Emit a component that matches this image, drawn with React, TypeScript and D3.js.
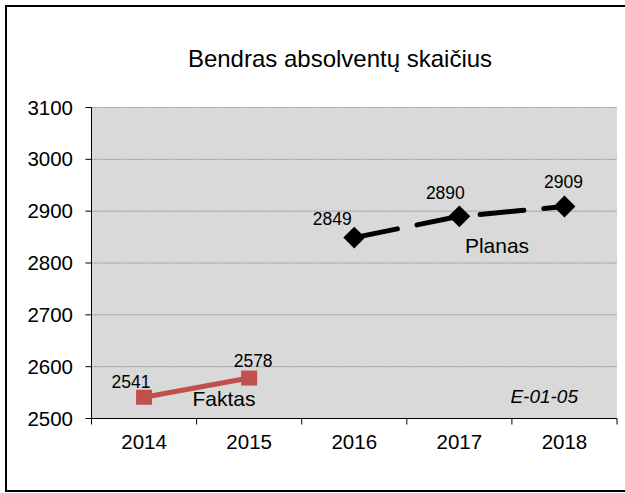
import React from "react";
import * as d3 from "d3";

const categories = ["2014", "2015", "2016", "2017", "2018"];
const faktasYears = ["2014", "2015"];
const faktasValues = [2541, 2578];
const planasYears = ["2016", "2017", "2018"];
const planasValues = [2849, 2890, 2909];
const yTicks = [2500, 2600, 2700, 2800, 2900, 3000, 3100];
const faktasLabelOffsets: [number, number][] = [[-13, -9], [4, -11]];
const planasLabelOffsets: [number, number][] = [[-22, -13], [-14, -17], [-1, -19]];

const W = 625, H = 493;
const plot = { left: 91.5, right: 617, top: 107.5, bottom: 418.5 };
const font = "'Liberation Sans', Arial, sans-serif";

export default function App() {
  const x = d3.scaleBand<string>().domain(categories).range([plot.left, plot.right]);
  const y = d3.scaleLinear().domain([2500, 3100]).range([plot.bottom, plot.top]);
  const cx = (c: string) => (x(c) as number) + x.bandwidth() / 2;
  const line = d3.line<[number, number]>().x((d) => d[0]).y((d) => d[1]);
  const fPts: [number, number][] = faktasYears.map((c, i) => [cx(c), y(faktasValues[i])]);
  const pPts: [number, number][] = planasYears.map((c, i) => [cx(c), y(planasValues[i])]);
  const bounds = [...categories.map((c) => x(c) as number), plot.right];

  return (
    <svg width={W} height={H} style={{ position: "absolute", left: 0, top: 0, background: "#fff" }} fontFamily={font}>
      <rect x={6} y={6} width={620} height={485} fill="#fff" stroke="#000" strokeWidth={2} />
      <text x={340} y={67} textAnchor="middle" fontSize={24} fill="#000">Bendras absolventų skaičius</text>
      <rect x={plot.left} y={plot.top} width={plot.right - plot.left} height={plot.bottom - plot.top} fill="#D9D9D9" />
      {yTicks.slice(1).map((t) => (
        <line key={t} x1={plot.left} x2={plot.right} y1={y(t)} y2={y(t)} stroke="#808080" strokeWidth={0.8} strokeDasharray="2 1" />
      ))}
      <line x1={plot.left} x2={plot.left} y1={plot.top} y2={plot.bottom} stroke="#000" strokeWidth={1} />
      <line x1={plot.left} x2={plot.right} y1={plot.bottom} y2={plot.bottom} stroke="#000" strokeWidth={1} />
      {yTicks.map((t) => (
        <g key={t}>
          <line x1={plot.left - 6} x2={plot.left} y1={y(t)} y2={y(t)} stroke="#000" />
          <text x={73} y={y(t) + 7} textAnchor="end" fontSize={20.5} fill="#000">{t}</text>
        </g>
      ))}
      {bounds.map((b, i) => (
        <line key={i} x1={b} x2={b} y1={plot.bottom} y2={plot.bottom + 6} stroke="#000" />
      ))}
      {categories.map((c) => (
        <text key={c} x={cx(c)} y={449} textAnchor="middle" fontSize={20.5} fill="#000">{c}</text>
      ))}
      <path d={line(fPts) as string} fill="none" stroke="#C0504D" strokeWidth={5} />
      {fPts.map((p, i) => (
        <rect key={i} x={p[0] - 8} y={p[1] - 7.5} width={16} height={15} fill="#C0504D" />
      ))}
      <path d={line(pPts) as string} fill="none" stroke="#000" strokeWidth={5} strokeDasharray="44 20" strokeLinecap="round" />
      {pPts.map((p, i) => (
        <path key={i} d={d3.symbol(d3.symbolSquare, 240)() as string} transform={`translate(${p[0]},${p[1]}) rotate(45)`} fill="#000" />
      ))}
      {fPts.map((p, i) => (
        <text key={i} x={p[0] + faktasLabelOffsets[i][0]} y={p[1] + faktasLabelOffsets[i][1]} textAnchor="middle" fontSize={17.5} fill="#000">{faktasValues[i]}</text>
      ))}
      {pPts.map((p, i) => (
        <text key={i} x={p[0] + planasLabelOffsets[i][0]} y={p[1] + planasLabelOffsets[i][1]} textAnchor="middle" fontSize={17.5} fill="#000">{planasValues[i]}</text>
      ))}
      <text x={224} y={406} textAnchor="middle" fontSize={21} fill="#000">Faktas</text>
      <text x={497} y={253} textAnchor="middle" fontSize={21} fill="#000">Planas</text>
      <text x={578} y={403} textAnchor="end" fontSize={19} fontStyle="italic" fill="#000">E-01-05</text>
    </svg>
  );
}
